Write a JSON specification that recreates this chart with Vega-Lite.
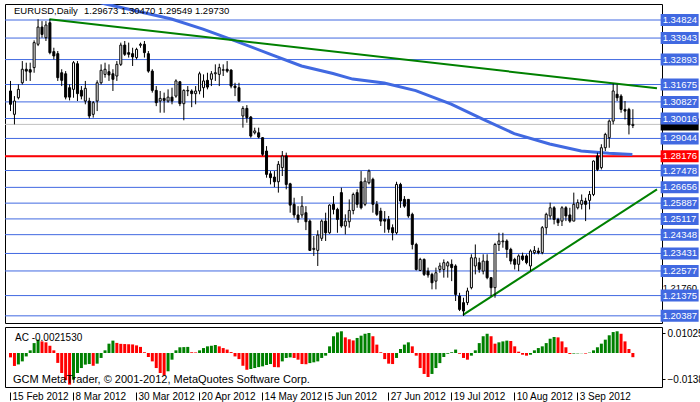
{
  "$schema": "https://vega.github.io/schema/vega-lite/v6.json",
  "background": "white",
  "padding": {"left": 3, "top": 3, "right": 0, "bottom": 0},
  "spacing": 2,
  "config": {
    "view": {"stroke": "black", "strokeWidth": 1},
    "axis": {"labelFont": "Liberation Sans, sans-serif"}
  },
  "datasets": {
    "levels": [{"p":1.34824},{"p":1.33943},{"p":1.32893},{"p":1.31675},{"p":1.30827},{"p":1.30016},{"p":1.29044},{"p":1.28176},{"p":1.27478},{"p":1.26656},{"p":1.25887},{"p":1.25117},{"p":1.24348},{"p":1.23431},{"p":1.22577},{"p":1.21375},{"p":1.20387}],
    "ma": [{"i":20,"p":1.3579},{"i":24,"p":1.3562},{"i":41,"p":1.3487},{"i":49,"p":1.3438},{"i":57,"p":1.3382},{"i":66,"p":1.3316},{"i":74,"p":1.3258},{"i":82,"p":1.3221},{"i":87,"p":1.3194},{"i":95,"p":1.3175},{"i":103,"p":1.3138},{"i":112,"p":1.3072},{"i":120,"p":1.2999},{"i":128,"p":1.2928},{"i":137,"p":1.2877},{"i":145,"p":1.2843},{"i":152,"p":1.2832},{"i":158,"p":1.2826}],
    "trend": [{"g":"a","i":10,"p":1.3486},{"g":"a","i":164.25,"p":1.3149},{"g":"b","i":115,"p":1.2043},{"g":"b","i":164.25,"p":1.2656}],
    "ohlc": [
      {"i":0,"o":1.3136,"h":1.3185,"l":1.3038,"c":1.3071},
      {"i":1,"o":1.3022,"h":1.3111,"l":1.2973,"c":1.3087},
      {"i":2,"o":1.3103,"h":1.3168,"l":1.3095,"c":1.3144},
      {"i":3,"o":1.3176,"h":1.3282,"l":1.3168,"c":1.3242},
      {"i":4,"o":1.3242,"h":1.3274,"l":1.3185,"c":1.3233},
      {"i":5,"o":1.3240,"h":1.3274,"l":1.3185,"c":1.3228},
      {"i":6,"o":1.3250,"h":1.3383,"l":1.3225,"c":1.3372},
      {"i":7,"o":1.3364,"h":1.3486,"l":1.3355,"c":1.3448},
      {"i":8,"o":1.3448,"h":1.3477,"l":1.3396,"c":1.3412},
      {"i":9,"o":1.3396,"h":1.3477,"l":1.3380,"c":1.3458},
      {"i":10,"o":1.3469,"h":1.3486,"l":1.3315,"c":1.3323},
      {"i":11,"o":1.3328,"h":1.3347,"l":1.3290,"c":1.3307},
      {"i":12,"o":1.3318,"h":1.3331,"l":1.3185,"c":1.3201},
      {"i":13,"o":1.3225,"h":1.3242,"l":1.3160,"c":1.3188},
      {"i":14,"o":1.3220,"h":1.3233,"l":1.3095,"c":1.3106},
      {"i":15,"o":1.3152,"h":1.3168,"l":1.3090,"c":1.3106},
      {"i":16,"o":1.3144,"h":1.3282,"l":1.3103,"c":1.3274},
      {"i":17,"o":1.3269,"h":1.3282,"l":1.3087,"c":1.3123},
      {"i":18,"o":1.3139,"h":1.3160,"l":1.3095,"c":1.3111},
      {"i":19,"o":1.3087,"h":1.3185,"l":1.3071,"c":1.3149},
      {"i":20,"o":1.3087,"h":1.3103,"l":1.3002,"c":1.3014},
      {"i":21,"o":1.3022,"h":1.3087,"l":1.3006,"c":1.3079},
      {"i":22,"o":1.3087,"h":1.3188,"l":1.3038,"c":1.3176},
      {"i":23,"o":1.3176,"h":1.3266,"l":1.3168,"c":1.3237},
      {"i":24,"o":1.3217,"h":1.3274,"l":1.3201,"c":1.3242},
      {"i":25,"o":1.3230,"h":1.3266,"l":1.3185,"c":1.3214},
      {"i":26,"o":1.3220,"h":1.3242,"l":1.3136,"c":1.3193},
      {"i":27,"o":1.3209,"h":1.3282,"l":1.3185,"c":1.3266},
      {"i":28,"o":1.3266,"h":1.3372,"l":1.3258,"c":1.3360},
      {"i":29,"o":1.3360,"h":1.3380,"l":1.3307,"c":1.3315},
      {"i":30,"o":1.3323,"h":1.3372,"l":1.3299,"c":1.3315},
      {"i":31,"o":1.3318,"h":1.3347,"l":1.3258,"c":1.3302},
      {"i":32,"o":1.3299,"h":1.3347,"l":1.3290,"c":1.3339},
      {"i":33,"o":1.3359,"h":1.3372,"l":1.3347,"c":1.3364},
      {"i":34,"o":1.3364,"h":1.3380,"l":1.3299,"c":1.3323},
      {"i":35,"o":1.3318,"h":1.3331,"l":1.3225,"c":1.3233},
      {"i":36,"o":1.3233,"h":1.3242,"l":1.3128,"c":1.3139},
      {"i":37,"o":1.3139,"h":1.3160,"l":1.3062,"c":1.3079},
      {"i":38,"o":1.3087,"h":1.3136,"l":1.3030,"c":1.3100},
      {"i":39,"o":1.3100,"h":1.3128,"l":1.3030,"c":1.3090},
      {"i":40,"o":1.3087,"h":1.3144,"l":1.3079,"c":1.3106},
      {"i":41,"o":1.3106,"h":1.3152,"l":1.3071,"c":1.3087},
      {"i":42,"o":1.3111,"h":1.3193,"l":1.3103,"c":1.3185},
      {"i":43,"o":1.3181,"h":1.3185,"l":1.3062,"c":1.3074},
      {"i":44,"o":1.3074,"h":1.3144,"l":1.2993,"c":1.3139},
      {"i":45,"o":1.3136,"h":1.3160,"l":1.3111,"c":1.3139},
      {"i":46,"o":1.3136,"h":1.3144,"l":1.3057,"c":1.3123},
      {"i":47,"o":1.3123,"h":1.3160,"l":1.3071,"c":1.3136},
      {"i":48,"o":1.3136,"h":1.3230,"l":1.3120,"c":1.3220},
      {"i":49,"o":1.3152,"h":1.3217,"l":1.3103,"c":1.3185},
      {"i":50,"o":1.3188,"h":1.3225,"l":1.3144,"c":1.3155},
      {"i":51,"o":1.3193,"h":1.3233,"l":1.3160,"c":1.3220},
      {"i":52,"o":1.3220,"h":1.3266,"l":1.3185,"c":1.3225},
      {"i":53,"o":1.3217,"h":1.3269,"l":1.3160,"c":1.3250},
      {"i":54,"o":1.3237,"h":1.3266,"l":1.3209,"c":1.3240},
      {"i":55,"o":1.3242,"h":1.3282,"l":1.3225,"c":1.3233},
      {"i":56,"o":1.3238,"h":1.3242,"l":1.3149,"c":1.3160},
      {"i":57,"o":1.3160,"h":1.3176,"l":1.3111,"c":1.3152},
      {"i":58,"o":1.3152,"h":1.3176,"l":1.3084,"c":1.3087},
      {"i":59,"o":1.3014,"h":1.3062,"l":1.2957,"c":1.3051},
      {"i":60,"o":1.3051,"h":1.3067,"l":1.2981,"c":1.3006},
      {"i":61,"o":1.3009,"h":1.3014,"l":1.2908,"c":1.2916},
      {"i":62,"o":1.2932,"h":1.2957,"l":1.2924,"c":1.2941},
      {"i":63,"o":1.2932,"h":1.2957,"l":1.2905,"c":1.2911},
      {"i":64,"o":1.2908,"h":1.2911,"l":1.2819,"c":1.2827},
      {"i":65,"o":1.2843,"h":1.2867,"l":1.2713,"c":1.2729},
      {"i":66,"o":1.2732,"h":1.2745,"l":1.2680,"c":1.2713},
      {"i":67,"o":1.2716,"h":1.2745,"l":1.2667,"c":1.2693},
      {"i":68,"o":1.2693,"h":1.2794,"l":1.2640,"c":1.2778},
      {"i":69,"o":1.2762,"h":1.2843,"l":1.2721,"c":1.2819},
      {"i":70,"o":1.2819,"h":1.2835,"l":1.2656,"c":1.2680},
      {"i":71,"o":1.2683,"h":1.2688,"l":1.2542,"c":1.2579},
      {"i":72,"o":1.2583,"h":1.2615,"l":1.2517,"c":1.2531},
      {"i":73,"o":1.2531,"h":1.2574,"l":1.2493,"c":1.2509},
      {"i":74,"o":1.2531,"h":1.2623,"l":1.2517,"c":1.2574},
      {"i":75,"o":1.2542,"h":1.2574,"l":1.2457,"c":1.2498},
      {"i":76,"o":1.2501,"h":1.2509,"l":1.2355,"c":1.2358},
      {"i":77,"o":1.2363,"h":1.2428,"l":1.2331,"c":1.2368},
      {"i":78,"o":1.2358,"h":1.2456,"l":1.2282,"c":1.2433},
      {"i":79,"o":1.2417,"h":1.2509,"l":1.2404,"c":1.2501},
      {"i":80,"o":1.2501,"h":1.2542,"l":1.2404,"c":1.2444},
      {"i":81,"o":1.2444,"h":1.2583,"l":1.2439,"c":1.2579},
      {"i":82,"o":1.2583,"h":1.2623,"l":1.2534,"c":1.2558},
      {"i":83,"o":1.2558,"h":1.2566,"l":1.2444,"c":1.2509},
      {"i":84,"o":1.2640,"h":1.2664,"l":1.2469,"c":1.2477},
      {"i":85,"o":1.2477,"h":1.2534,"l":1.2436,"c":1.2501},
      {"i":86,"o":1.2498,"h":1.2607,"l":1.2469,"c":1.2553},
      {"i":87,"o":1.2553,"h":1.2640,"l":1.2534,"c":1.2631},
      {"i":88,"o":1.2640,"h":1.2656,"l":1.2566,"c":1.2583},
      {"i":89,"o":1.2693,"h":1.2745,"l":1.2558,"c":1.2566},
      {"i":90,"o":1.2583,"h":1.2713,"l":1.2574,"c":1.2696},
      {"i":91,"o":1.2688,"h":1.2753,"l":1.2680,"c":1.2745},
      {"i":92,"o":1.2705,"h":1.2713,"l":1.2542,"c":1.2583},
      {"i":93,"o":1.2583,"h":1.2599,"l":1.2526,"c":1.2534},
      {"i":94,"o":1.2550,"h":1.2566,"l":1.2477,"c":1.2501},
      {"i":95,"o":1.2509,"h":1.2550,"l":1.2444,"c":1.2501},
      {"i":96,"o":1.2509,"h":1.2526,"l":1.2444,"c":1.2461},
      {"i":97,"o":1.2469,"h":1.2485,"l":1.2407,"c":1.2444},
      {"i":98,"o":1.2444,"h":1.2693,"l":1.2436,"c":1.2680},
      {"i":99,"o":1.2680,"h":1.2688,"l":1.2566,"c":1.2599},
      {"i":100,"o":1.2607,"h":1.2623,"l":1.2566,"c":1.2574},
      {"i":101,"o":1.2607,"h":1.2607,"l":1.2517,"c":1.2526},
      {"i":102,"o":1.2534,"h":1.2542,"l":1.2363,"c":1.2387},
      {"i":103,"o":1.2387,"h":1.2395,"l":1.2260,"c":1.2265},
      {"i":104,"o":1.2260,"h":1.2322,"l":1.2257,"c":1.2314},
      {"i":105,"o":1.2314,"h":1.2319,"l":1.2233,"c":1.2241},
      {"i":106,"o":1.2257,"h":1.2274,"l":1.2225,"c":1.2238},
      {"i":107,"o":1.2241,"h":1.2249,"l":1.2168,"c":1.2200},
      {"i":108,"o":1.2208,"h":1.2274,"l":1.2168,"c":1.2249},
      {"i":109,"o":1.2265,"h":1.2298,"l":1.2249,"c":1.2282},
      {"i":110,"o":1.2265,"h":1.2314,"l":1.2225,"c":1.2298},
      {"i":111,"o":1.2282,"h":1.2306,"l":1.2225,"c":1.2298},
      {"i":112,"o":1.2290,"h":1.2314,"l":1.2208,"c":1.2274},
      {"i":113,"o":1.2282,"h":1.2290,"l":1.2111,"c":1.2143},
      {"i":114,"o":1.2135,"h":1.2151,"l":1.2062,"c":1.2070},
      {"i":115,"o":1.2103,"h":1.2127,"l":1.2038,"c":1.2062},
      {"i":116,"o":1.2103,"h":1.2176,"l":1.2091,"c":1.2160},
      {"i":117,"o":1.2176,"h":1.2339,"l":1.2168,"c":1.2322},
      {"i":118,"o":1.2282,"h":1.2387,"l":1.2241,"c":1.2322},
      {"i":119,"o":1.2298,"h":1.2322,"l":1.2249,"c":1.2265},
      {"i":120,"o":1.2257,"h":1.2339,"l":1.2241,"c":1.2306},
      {"i":121,"o":1.2306,"h":1.2339,"l":1.2217,"c":1.2225},
      {"i":122,"o":1.2225,"h":1.2225,"l":1.2135,"c":1.2176},
      {"i":123,"o":1.2176,"h":1.2395,"l":1.2127,"c":1.2387},
      {"i":124,"o":1.2387,"h":1.2444,"l":1.2355,"c":1.2404},
      {"i":125,"o":1.2400,"h":1.2444,"l":1.2371,"c":1.2404},
      {"i":126,"o":1.2404,"h":1.2412,"l":1.2322,"c":1.2363},
      {"i":127,"o":1.2363,"h":1.2371,"l":1.2290,"c":1.2306},
      {"i":128,"o":1.2314,"h":1.2322,"l":1.2265,"c":1.2290},
      {"i":129,"o":1.2290,"h":1.2339,"l":1.2257,"c":1.2331},
      {"i":130,"o":1.2331,"h":1.2347,"l":1.2306,"c":1.2314},
      {"i":131,"o":1.2331,"h":1.2339,"l":1.2290,"c":1.2298},
      {"i":132,"o":1.2282,"h":1.2363,"l":1.2257,"c":1.2355},
      {"i":133,"o":1.2347,"h":1.2379,"l":1.2339,"c":1.2358},
      {"i":134,"o":1.2355,"h":1.2371,"l":1.2339,"c":1.2347},
      {"i":135,"o":1.2347,"h":1.2477,"l":1.2339,"c":1.2469},
      {"i":136,"o":1.2469,"h":1.2542,"l":1.2436,"c":1.2534},
      {"i":137,"o":1.2526,"h":1.2591,"l":1.2509,"c":1.2566},
      {"i":138,"o":1.2566,"h":1.2574,"l":1.2485,"c":1.2509},
      {"i":139,"o":1.2509,"h":1.2517,"l":1.2477,"c":1.2493},
      {"i":140,"o":1.2501,"h":1.2574,"l":1.2477,"c":1.2566},
      {"i":141,"o":1.2566,"h":1.2574,"l":1.2501,"c":1.2526},
      {"i":142,"o":1.2531,"h":1.2566,"l":1.2493,"c":1.2501},
      {"i":143,"o":1.2501,"h":1.2640,"l":1.2501,"c":1.2583},
      {"i":144,"o":1.2566,"h":1.2607,"l":1.2558,"c":1.2591},
      {"i":145,"o":1.2583,"h":1.2631,"l":1.2558,"c":1.2602},
      {"i":146,"o":1.2599,"h":1.2615,"l":1.2501,"c":1.2583},
      {"i":147,"o":1.2602,"h":1.2648,"l":1.2558,"c":1.2631},
      {"i":148,"o":1.2631,"h":1.2797,"l":1.2623,"c":1.2794},
      {"i":149,"o":1.2819,"h":1.2835,"l":1.2745,"c":1.2753},
      {"i":150,"o":1.2762,"h":1.2876,"l":1.2753,"c":1.2859},
      {"i":151,"o":1.2859,"h":1.2932,"l":1.2843,"c":1.2924},
      {"i":152,"o":1.2908,"h":1.2997,"l":1.2859,"c":1.2989},
      {"i":153,"o":1.2989,"h":1.3172,"l":1.2973,"c":1.3136},
      {"i":154,"o":1.3120,"h":1.3168,"l":1.3087,"c":1.3103},
      {"i":155,"o":1.3111,"h":1.3120,"l":1.3030,"c":1.3046},
      {"i":156,"o":1.3046,"h":1.3087,"l":1.2997,"c":1.3038},
      {"i":157,"o":1.3046,"h":1.3054,"l":1.2924,"c":1.2970},
      {"i":158,"o":1.29673,"h":1.30470,"l":1.29549,"c":1.29730}
    ],
    "ac": [
      {"i":0,"v":-0.0023,"d":"down"},{"i":1,"v":-0.0068,"d":"down"},{"i":2,"v":-0.0060,"d":"up"},{"i":3,"v":-0.0044,"d":"up"},{"i":4,"v":-0.0018,"d":"up"},{"i":5,"v":0.0014,"d":"up"},{"i":6,"v":0.0052,"d":"up"},{"i":7,"v":0.0070,"d":"up"},{"i":8,"v":0.0061,"d":"down"},{"i":9,"v":0.0056,"d":"down"},
      {"i":10,"v":0.0038,"d":"down"},{"i":11,"v":0.0014,"d":"down"},{"i":12,"v":-0.0052,"d":"down"},{"i":13,"v":-0.0105,"d":"down"},{"i":14,"v":-0.0143,"d":"down"},{"i":15,"v":-0.0166,"d":"down"},{"i":16,"v":-0.0140,"d":"up"},{"i":17,"v":-0.0105,"d":"up"},{"i":18,"v":-0.0079,"d":"up"},{"i":19,"v":-0.0061,"d":"up"},
      {"i":20,"v":-0.0058,"d":"up"},{"i":21,"v":-0.0067,"d":"down"},{"i":22,"v":-0.0056,"d":"up"},{"i":23,"v":-0.0026,"d":"up"},{"i":24,"v":0.0014,"d":"up"},{"i":25,"v":0.0049,"d":"up"},{"i":26,"v":0.0065,"d":"up"},{"i":27,"v":0.0053,"d":"down"},{"i":28,"v":0.0048,"d":"down"},{"i":29,"v":0.0047,"d":"down"},
      {"i":30,"v":0.0046,"d":"down"},{"i":31,"v":0.0045,"d":"down"},{"i":32,"v":0.0040,"d":"down"},{"i":33,"v":0.0032,"d":"down"},{"i":34,"v":0.0004,"d":"down"},{"i":35,"v":-0.0021,"d":"down"},{"i":36,"v":-0.0044,"d":"down"},{"i":37,"v":-0.0079,"d":"down"},{"i":38,"v":-0.0105,"d":"down"},{"i":39,"v":-0.0117,"d":"down"},
      {"i":40,"v":-0.0096,"d":"up"},{"i":41,"v":-0.0035,"d":"up"},{"i":42,"v":0.0014,"d":"up"},{"i":43,"v":0.0030,"d":"up"},{"i":44,"v":0.0031,"d":"up"},{"i":45,"v":0.0032,"d":"up"},{"i":46,"v":0.0004,"d":"down"},{"i":47,"v":0.0003,"d":"down"},{"i":48,"v":0.0014,"d":"up"},{"i":49,"v":0.0026,"d":"up"},
      {"i":50,"v":0.0035,"d":"up"},{"i":51,"v":0.0038,"d":"up"},{"i":52,"v":0.0042,"d":"up"},{"i":53,"v":0.0035,"d":"down"},{"i":54,"v":0.0026,"d":"down"},{"i":55,"v":0.0018,"d":"down"},{"i":56,"v":0.0005,"d":"down"},{"i":57,"v":-0.0018,"d":"down"},{"i":58,"v":-0.0032,"d":"down"},{"i":59,"v":-0.0067,"d":"down"},
      {"i":60,"v":-0.0088,"d":"down"},{"i":61,"v":-0.0084,"d":"up"},{"i":62,"v":-0.0079,"d":"up"},{"i":63,"v":-0.0074,"d":"up"},{"i":64,"v":-0.0070,"d":"up"},{"i":65,"v":-0.0063,"d":"up"},{"i":66,"v":-0.0058,"d":"up"},{"i":67,"v":-0.0074,"d":"down"},{"i":68,"v":-0.0075,"d":"down"},{"i":69,"v":-0.0044,"d":"up"},
      {"i":70,"v":-0.0026,"d":"up"},{"i":71,"v":-0.0023,"d":"up"},{"i":72,"v":-0.0026,"d":"down"},{"i":73,"v":-0.0035,"d":"down"},{"i":74,"v":-0.0058,"d":"down"},{"i":75,"v":-0.0059,"d":"down"},{"i":76,"v":-0.0053,"d":"up"},{"i":77,"v":-0.0049,"d":"up"},{"i":78,"v":-0.0044,"d":"up"},{"i":79,"v":-0.0026,"d":"up"},
      {"i":80,"v":-0.0014,"d":"up"},{"i":81,"v":0.0035,"d":"up"},{"i":82,"v":0.0088,"d":"up"},{"i":83,"v":0.0108,"d":"up"},{"i":84,"v":0.0114,"d":"up"},{"i":85,"v":0.0082,"d":"down"},{"i":86,"v":0.0072,"d":"down"},{"i":87,"v":0.0066,"d":"down"},{"i":88,"v":0.0079,"d":"up"},{"i":89,"v":0.0091,"d":"up"},
      {"i":90,"v":0.0101,"d":"up"},{"i":91,"v":0.0105,"d":"up"},{"i":92,"v":0.0088,"d":"down"},{"i":93,"v":0.0044,"d":"down"},{"i":94,"v":0.0004,"d":"down"},{"i":95,"v":-0.0032,"d":"down"},{"i":96,"v":-0.0056,"d":"down"},{"i":97,"v":-0.0058,"d":"down"},{"i":98,"v":-0.0026,"d":"up"},{"i":99,"v":0.0021,"d":"up"},
      {"i":100,"v":0.0044,"d":"up"},{"i":101,"v":0.0056,"d":"up"},{"i":102,"v":0.0035,"d":"down"},{"i":103,"v":-0.0014,"d":"down"},{"i":104,"v":-0.0079,"d":"down"},{"i":105,"v":-0.0110,"d":"down"},{"i":106,"v":-0.0126,"d":"down"},{"i":107,"v":-0.0110,"d":"up"},{"i":108,"v":-0.0079,"d":"up"},{"i":109,"v":-0.0053,"d":"up"},
      {"i":110,"v":-0.0021,"d":"up"},{"i":111,"v":-0.0004,"d":"up"},{"i":112,"v":0.0004,"d":"up"},{"i":113,"v":0.0018,"d":"up"},{"i":114,"v":-0.0004,"d":"down"},{"i":115,"v":-0.0026,"d":"down"},{"i":116,"v":-0.0035,"d":"down"},{"i":117,"v":-0.0014,"d":"up"},{"i":118,"v":0.0014,"d":"up"},{"i":119,"v":0.0052,"d":"up"},
      {"i":120,"v":0.0088,"d":"up"},{"i":121,"v":0.0101,"d":"up"},{"i":122,"v":0.0088,"d":"down"},{"i":123,"v":0.0049,"d":"down"},{"i":124,"v":0.0056,"d":"up"},{"i":125,"v":0.0061,"d":"up"},{"i":126,"v":0.0065,"d":"up"},{"i":127,"v":0.0063,"d":"down"},{"i":128,"v":0.0035,"d":"down"},{"i":129,"v":0.0007,"d":"down"},
      {"i":130,"v":-0.0009,"d":"down"},{"i":131,"v":-0.0014,"d":"down"},{"i":132,"v":-0.0009,"d":"up"},{"i":133,"v":0.0014,"d":"up"},{"i":134,"v":0.0026,"d":"up"},{"i":135,"v":0.0035,"d":"up"},{"i":136,"v":0.0052,"d":"up"},{"i":137,"v":0.0075,"d":"up"},{"i":138,"v":0.0084,"d":"up"},{"i":139,"v":0.0082,"d":"down"},
      {"i":140,"v":0.0061,"d":"down"},{"i":141,"v":0.0030,"d":"down"},{"i":142,"v":-0.0005,"d":"down"},{"i":143,"v":-0.0003,"d":"up"},{"i":144,"v":-0.0002,"d":"up"},{"i":145,"v":-0.0001,"d":"up"},{"i":146,"v":-0.0003,"d":"down"},{"i":147,"v":0.0002,"d":"up"},{"i":148,"v":0.0014,"d":"up"},{"i":149,"v":0.0030,"d":"up"},
      {"i":150,"v":0.0049,"d":"up"},{"i":151,"v":0.0070,"d":"up"},{"i":152,"v":0.0093,"d":"up"},{"i":153,"v":0.0110,"d":"up"},{"i":154,"v":0.0114,"d":"up"},{"i":155,"v":0.0101,"d":"down"},{"i":156,"v":0.0061,"d":"down"},{"i":157,"v":0.0021,"d":"down"},{"i":158,"v":-0.0022,"d":"down"}
    ]
  },
  "vconcat": [
    {
      "width": 657,
      "height": 319,
      "encoding": {
        "x": {"type": "quantitative", "scale": {"domain": [0, 164.25], "nice": false, "zero": false}, "axis": null},
        "y": {"type": "quantitative", "scale": {"domain": [1.20037, 1.35605], "nice": false, "zero": false}, "axis": null}
      },
      "layer": [
        {
          "data": {"name": "levels"},
          "mark": {"type": "rule", "color": "#4169E1", "strokeWidth": 1},
          "encoding": {"y": {"field": "p", "type": "quantitative"}}
        },
        {
          "data": {"values": [{"p": 1.2973}]},
          "mark": {"type": "rule", "color": "#C0C0C0", "strokeWidth": 1},
          "encoding": {"y": {"field": "p", "type": "quantitative"}}
        },
        {
          "data": {"values": [{"p": 1.28176}]},
          "mark": {"type": "rule", "color": "#FF0000", "strokeWidth": 2},
          "encoding": {"y": {"field": "p", "type": "quantitative"}}
        },
        {
          "data": {"name": "ma"},
          "mark": {"type": "line", "color": "#4169E1", "strokeWidth": 3, "clip": true},
          "encoding": {
            "x": {"field": "i", "type": "quantitative"},
            "y": {"field": "p", "type": "quantitative"}
          }
        },
        {
          "data": {"name": "trend"},
          "mark": {"type": "line", "color": "#008000", "strokeWidth": 2, "clip": true},
          "encoding": {
            "x": {"field": "i", "type": "quantitative"},
            "y": {"field": "p", "type": "quantitative"},
            "detail": {"field": "g", "type": "nominal"}
          }
        },
        {
          "data": {"name": "ohlc"},
          "mark": {"type": "rule", "color": "#000000", "strokeWidth": 1, "xOffset": 0.5, "clip": true},
          "encoding": {
            "x": {"field": "i", "type": "quantitative"},
            "y": {"field": "l", "type": "quantitative"},
            "y2": {"field": "h"}
          }
        },
        {
          "data": {"name": "ohlc"},
          "mark": {"type": "bar", "width": 2, "stroke": "#000000", "strokeWidth": 1, "xOffset": 0.5, "clip": true},
          "encoding": {
            "x": {"field": "i", "type": "quantitative"},
            "y": {"field": "o", "type": "quantitative"},
            "y2": {"field": "c"},
            "fill": {"condition": {"test": "datum.c >= datum.o", "value": "#FFFFFF"}, "value": "#000000"}
          }
        },
        {
          "data": {"values": [{"t": "EURUSD,Daily"}]},
          "mark": {"type": "text", "align": "left", "baseline": "middle", "dx": 4, "font": "Liberation Sans, sans-serif", "fontSize": 9.5, "color": "#000000"},
          "encoding": {"x": {"datum": 0}, "y": {"datum": 1.3525}, "text": {"field": "t"}}
        },
        {
          "data": {"values": [{"t": "1.29673 1.30470 1.29549 1.29730"}]},
          "mark": {"type": "text", "align": "left", "baseline": "middle", "dx": 74, "font": "Liberation Sans, sans-serif", "fontSize": 9.5, "color": "#000000"},
          "encoding": {"x": {"datum": 0}, "y": {"datum": 1.3525}, "text": {"field": "t"}}
        },
        {
          "data": {"values": [{"p": 1.2176}]},
          "mark": {"type": "text", "align": "left", "baseline": "middle", "dx": -17, "font": "Liberation Sans, sans-serif", "fontSize": 9.5, "color": "#000000"},
          "encoding": {"x": {"datum": 170}, "y": {"field": "p", "type": "quantitative"}, "text": {"field": "p", "type": "quantitative", "format": ".5f"}}
        },
        {
          "data": {"values": [{"p": 1.2973}]},
          "mark": {"type": "tick", "orient": "horizontal", "size": 38, "thickness": 12, "color": "#000000", "opacity": 1},
          "encoding": {"x": {"datum": 170}, "y": {"field": "p", "type": "quantitative"}}
        },
        {
          "data": {"name": "levels"},
          "mark": {"type": "tick", "orient": "horizontal", "size": 38, "thickness": 12, "opacity": 1},
          "encoding": {
            "x": {"datum": 170},
            "y": {"field": "p", "type": "quantitative"},
            "color": {"condition": {"test": "datum.p == 1.28176", "value": "#FF0000"}, "value": "#4169E1"}
          }
        },
        {
          "data": {"name": "levels"},
          "mark": {"type": "text", "align": "left", "baseline": "middle", "dx": -17, "font": "Liberation Sans, sans-serif", "fontSize": 9.5, "color": "#FFFFFF"},
          "encoding": {"x": {"datum": 170}, "y": {"field": "p", "type": "quantitative"}, "text": {"field": "p", "type": "quantitative", "format": ".5f"}}
        }
      ]
    },
    {
      "width": 657,
      "height": 60,
      "layer": [
        {
          "data": {"name": "ac"},
          "mark": {"type": "bar", "width": 3, "xOffset": 0.5},
          "encoding": {
            "x": {
              "field": "i", "type": "quantitative",
              "scale": {"domain": [0, 164.25], "nice": false, "zero": false},
              "axis": {
                "orient": "bottom",
                "values": [0, 16, 32, 48, 64, 80, 96, 112, 128, 144],
                "labelExpr": "['15 Feb 2012','8 Mar 2012','30 Mar 2012','20 Apr 2012','14 May 2012','5 Jun 2012','27 Jun 2012','19 Jul 2012','10 Aug 2012','3 Sep 2012'][round(datum.value/16)]",
                "title": null,
                "domain": false,
                "grid": false,
                "offset": 5,
                "tickSize": 8,
                "tickColor": "#000000",
                "labelAlign": "left",
                "labelBaseline": "top",
                "labelPadding": -9,
                "labelOffset": 2,
                "labelFontSize": 10,
                "labelColor": "#000000",
                "labelFlush": false,
                "labelOverlap": false,
                "labelBound": false
              }
            },
            "y": {
              "field": "v", "type": "quantitative",
              "scale": {"domain": [-0.01785, 0.01365], "nice": false, "zero": false},
              "axis": {
                "orient": "right",
                "values": [0.010256, 0, -0.01387],
                "labelExpr": "datum.value == 0 ? '0.00' : format(datum.value, '.6f')",
                "title": null,
                "domain": false,
                "grid": false,
                "tickSize": 3,
                "tickColor": "#000000",
                "labelPadding": 2,
                "labelFontSize": 10,
                "labelColor": "#000000",
                "labelOverlap": false,
                "labelBound": false,
                "labelFlush": false
              }
            },
            "color": {"field": "d", "type": "nominal", "scale": {"domain": ["up", "down"], "range": ["#008000", "#FF0000"]}, "legend": null}
          }
        },
        {
          "data": {"values": [{"t": "AC -0.0021530"}]},
          "mark": {"type": "text", "align": "left", "baseline": "middle", "dx": 5, "font": "Liberation Sans, sans-serif", "fontSize": 10, "color": "#000000"},
          "encoding": {"x": {"datum": 0}, "y": {"datum": 0.0079}, "text": {"field": "t"}}
        },
        {
          "data": {"values": [{"t": "GCM MetaTrader, © 2001-2012, MetaQuotes Software Corp."}]},
          "mark": {"type": "text", "align": "left", "baseline": "middle", "dx": 3, "font": "Liberation Sans", "fontSize": 11, "color": "#000000"},
          "encoding": {"x": {"datum": 0}, "y": {"datum": -0.0144}, "text": {"field": "t"}}
        }
      ]
    }
  ]
}
